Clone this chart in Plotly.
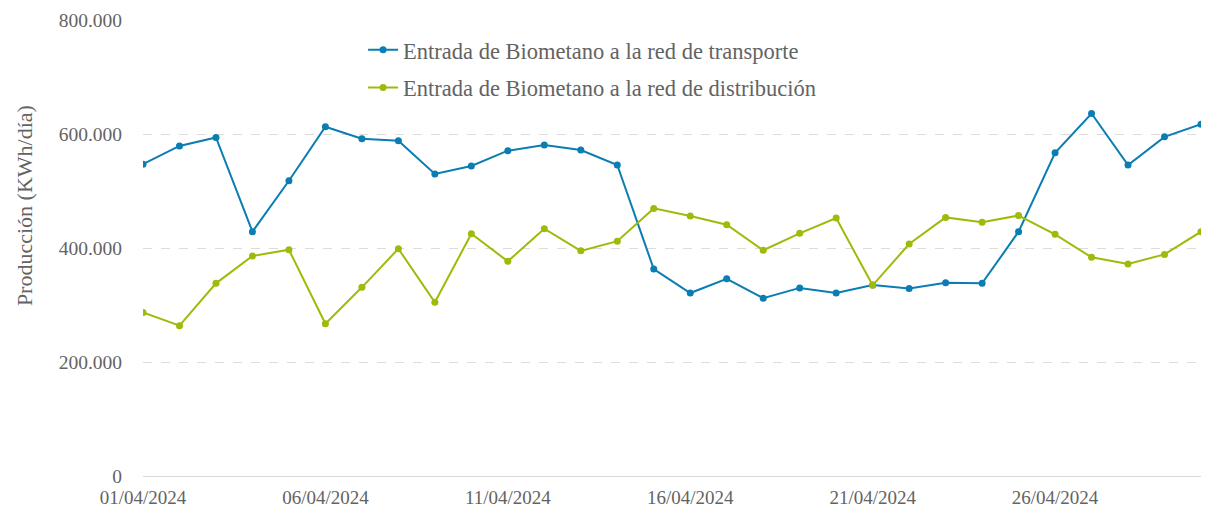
import plotly.graph_objects as go

dates = [f"2024-04-{d:02d}" for d in range(1, 31)]
transporte = [547000, 579000, 594000, 428600, 518000, 612800, 591800, 588000, 530000, 544000,
              570700, 580700, 572000, 545600, 363000, 321000, 346000, 312000, 330000, 321000,
              335000, 329000, 339000, 338000, 428600, 567000, 636000, 545600, 595000, 617000]
distribucion = [287000, 263700, 338000, 386000, 397000, 267000, 331000, 398700, 304700, 425000,
                376600, 433800, 395000, 412000, 469500, 456000, 440800, 396000, 425700, 452500,
                334500, 407000, 453700, 445000, 457000, 424000, 383600, 371800, 388800, 428600]
tick_dates = ["2024-04-01", "2024-04-06", "2024-04-11", "2024-04-16", "2024-04-21", "2024-04-26"]
tick_labels = ["01/04/2024", "06/04/2024", "11/04/2024", "16/04/2024", "21/04/2024", "26/04/2024"]
y_ticks = [0, 200000, 400000, 600000, 800000]

BLUE = "#0a7db3"
GREEN = "#9fba0a"
FONT = "Liberation Serif"
TXT = "#636363"

fig = go.Figure()
fig.add_trace(go.Scatter(x=dates, y=transporte, mode="lines+markers",
                         name="Entrada de Biometano a la red de transporte",
                         line=dict(color=BLUE, width=2), marker=dict(size=7, color=BLUE),
                         legend="legend", showlegend=True))
fig.add_trace(go.Scatter(x=dates, y=distribucion, mode="lines+markers",
                         name="Entrada de Biometano a la red de distribución",
                         line=dict(color=GREEN, width=2), marker=dict(size=7, color=GREEN),
                         legend="legend2", showlegend=True))

fig.update_layout(
    width=1215, height=509,
    margin=dict(l=143, r=14, t=20, b=33, autoexpand=False),
    plot_bgcolor="white", paper_bgcolor="white",
    separators=",.",
    showlegend=True,
    font=dict(family=FONT, size=17, color=TXT),
    legend=dict(x=0.208, y=0.934, xanchor="left", yanchor="middle",
                font=dict(family=FONT, size=22.5, color=TXT), bgcolor="rgba(0,0,0,0)",
                itemwidth=30),
    legend2=dict(x=0.208, y=0.851, xanchor="left", yanchor="middle",
                 font=dict(family=FONT, size=22.5, color=TXT), bgcolor="rgba(0,0,0,0)",
                 itemwidth=30),
    xaxis=dict(type="date", range=[dates[0], dates[-1]], tickvals=tick_dates, ticktext=tick_labels,
               showgrid=False, showline=True, linecolor="#d9d9d9", linewidth=1,
               ticks="outside", ticklen=4, tickcolor="rgba(0,0,0,0)", automargin=False,
               tickfont=dict(family=FONT, size=19, color=TXT), zeroline=False),
    yaxis=dict(range=[0, 800000], tickvals=y_ticks, tickformat=",d",
               showgrid=True, gridcolor="#dcdcdc", griddash="dash", gridwidth=1,
               zeroline=False, showline=False, automargin=False,
               ticks="outside", ticklen=16, tickcolor="rgba(0,0,0,0)",
               tickfont=dict(family=FONT, size=19.5, color=TXT)),
    annotations=[dict(text="Producción (KWh/día)", xref="paper", yref="paper",
                      x=-0.1125, y=0.594, textangle=-90, showarrow=False,
                      xanchor="center", yanchor="middle",
                      font=dict(family=FONT, size=22, color=TXT))],
)

fig.write_html("out.html", config={"displayModeBar": False},
               post_script="document.body.style.margin='0';")
